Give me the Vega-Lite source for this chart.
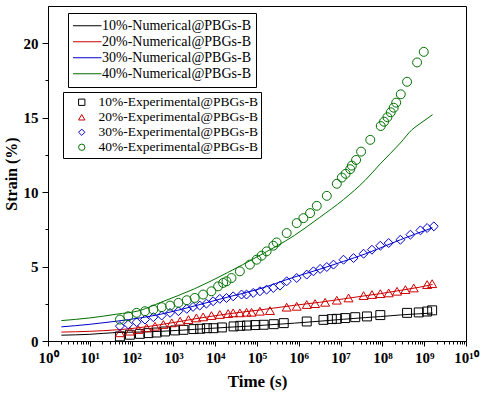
{
  "$schema": "https://vega.github.io/schema/vega-lite/v6.json",
  "width": 418,
  "height": 335,
  "autosize": "none",
  "padding": {"left": 48, "top": 6, "right": 20, "bottom": 56},
  "background": "white",
  "config": {
    "view": {"stroke": "black", "strokeWidth": 1},
    "font": "Liberation Serif",
    "axis": {"grid": false, "domainColor": "black", "tickColor": "black", "labelColor": "black", "titleColor": "black", "labelFont": "Liberation Serif", "titleFont": "Liberation Serif", "labelFontWeight": "bold", "titleFontWeight": "bold"},
    "legend": {"labelFont": "Liberation Serif", "labelColor": "black"}
  },
  "datasets": {
    "num": [
      {"t": 2.09, "10%-Numerical@PBGs-B": 0.39, "20%-Numerical@PBGs-B": 0.6, "30%-Numerical@PBGs-B": 0.95, "40%-Numerical@PBGs-B": 1.37},
      {"t": 10, "10%-Numerical@PBGs-B": 0.45, "20%-Numerical@PBGs-B": 0.65, "30%-Numerical@PBGs-B": 1.12, "40%-Numerical@PBGs-B": 1.55},
      {"t": 43.65, "10%-Numerical@PBGs-B": 0.57, "20%-Numerical@PBGs-B": 0.75, "30%-Numerical@PBGs-B": 1.33, "40%-Numerical@PBGs-B": 1.8},
      {"t": 158.5, "10%-Numerical@PBGs-B": 0.6, "20%-Numerical@PBGs-B": 0.9, "30%-Numerical@PBGs-B": 1.55, "40%-Numerical@PBGs-B": 2.05},
      {"t": 501.2, "10%-Numerical@PBGs-B": 0.65, "20%-Numerical@PBGs-B": 1.1, "30%-Numerical@PBGs-B": 1.8, "40%-Numerical@PBGs-B": 2.6},
      {"t": 3162, "10%-Numerical@PBGs-B": 0.78, "20%-Numerical@PBGs-B": 1.48, "30%-Numerical@PBGs-B": 2.35, "40%-Numerical@PBGs-B": 3.5},
      {"t": 19950, "10%-Numerical@PBGs-B": 0.92, "20%-Numerical@PBGs-B": 1.82, "30%-Numerical@PBGs-B": 2.95, "40%-Numerical@PBGs-B": 4.6},
      {"t": 100000, "10%-Numerical@PBGs-B": 1.03, "20%-Numerical@PBGs-B": 2.06, "30%-Numerical@PBGs-B": 3.45, "40%-Numerical@PBGs-B": 5.65},
      {"t": 794300, "10%-Numerical@PBGs-B": 1.2, "20%-Numerical@PBGs-B": 2.4, "30%-Numerical@PBGs-B": 4.3, "40%-Numerical@PBGs-B": 7.1},
      {"t": 3162000, "10%-Numerical@PBGs-B": 1.33, "20%-Numerical@PBGs-B": 2.6, "30%-Numerical@PBGs-B": 4.82, "40%-Numerical@PBGs-B": 8.3},
      {"t": 11750000, "10%-Numerical@PBGs-B": 1.46, "20%-Numerical@PBGs-B": 2.83, "30%-Numerical@PBGs-B": 5.35, "40%-Numerical@PBGs-B": 9.5},
      {"t": 38900000, "10%-Numerical@PBGs-B": 1.57, "20%-Numerical@PBGs-B": 3.04, "30%-Numerical@PBGs-B": 5.85, "40%-Numerical@PBGs-B": 10.8},
      {"t": 89130000, "10%-Numerical@PBGs-B": 1.64, "20%-Numerical@PBGs-B": 3.18, "30%-Numerical@PBGs-B": 6.25, "40%-Numerical@PBGs-B": 11.9},
      {"t": 269200000, "10%-Numerical@PBGs-B": 1.75, "20%-Numerical@PBGs-B": 3.4, "30%-Numerical@PBGs-B": 6.8, "40%-Numerical@PBGs-B": 13.3},
      {"t": 512900000, "10%-Numerical@PBGs-B": 1.8, "20%-Numerical@PBGs-B": 3.53, "30%-Numerical@PBGs-B": 7.1, "40%-Numerical@PBGs-B": 14.2},
      {"t": 794300000, "10%-Numerical@PBGs-B": 1.83, "20%-Numerical@PBGs-B": 3.62, "30%-Numerical@PBGs-B": 7.3, "40%-Numerical@PBGs-B": 14.6},
      {"t": 1585000000, "10%-Numerical@PBGs-B": 1.88, "20%-Numerical@PBGs-B": 3.8, "30%-Numerical@PBGs-B": 7.6, "40%-Numerical@PBGs-B": 15.2}
    ],
    "exp": [
      {"g": "10%-Experimental@PBGs-B", "t": 52.5, "s": 0.31},
      {"g": "10%-Experimental@PBGs-B", "t": 91.2, "s": 0.42},
      {"g": "10%-Experimental@PBGs-B", "t": 158.5, "s": 0.48},
      {"g": "10%-Experimental@PBGs-B", "t": 251.2, "s": 0.53},
      {"g": "10%-Experimental@PBGs-B", "t": 398.1, "s": 0.57},
      {"g": "10%-Experimental@PBGs-B", "t": 631, "s": 0.64},
      {"g": "10%-Experimental@PBGs-B", "t": 1096, "s": 0.71},
      {"g": "10%-Experimental@PBGs-B", "t": 1738, "s": 0.75},
      {"g": "10%-Experimental@PBGs-B", "t": 3020, "s": 0.8},
      {"g": "10%-Experimental@PBGs-B", "t": 4365, "s": 0.82},
      {"g": "10%-Experimental@PBGs-B", "t": 6310, "s": 0.86},
      {"g": "10%-Experimental@PBGs-B", "t": 9120, "s": 0.86},
      {"g": "10%-Experimental@PBGs-B", "t": 14450, "s": 0.91},
      {"g": "10%-Experimental@PBGs-B", "t": 27540, "s": 0.98},
      {"g": "10%-Experimental@PBGs-B", "t": 39810, "s": 1.02},
      {"g": "10%-Experimental@PBGs-B", "t": 57540, "s": 1.04},
      {"g": "10%-Experimental@PBGs-B", "t": 91200, "s": 1.07},
      {"g": "10%-Experimental@PBGs-B", "t": 144500, "s": 1.09},
      {"g": "10%-Experimental@PBGs-B", "t": 251200, "s": 1.13},
      {"g": "10%-Experimental@PBGs-B", "t": 436500, "s": 1.2},
      {"g": "10%-Experimental@PBGs-B", "t": 1549000, "s": 1.31},
      {"g": "10%-Experimental@PBGs-B", "t": 3890000, "s": 1.42},
      {"g": "10%-Experimental@PBGs-B", "t": 6166000, "s": 1.47},
      {"g": "10%-Experimental@PBGs-B", "t": 8128000, "s": 1.49},
      {"g": "10%-Experimental@PBGs-B", "t": 12880000, "s": 1.54},
      {"g": "10%-Experimental@PBGs-B", "t": 22390000, "s": 1.6},
      {"g": "10%-Experimental@PBGs-B", "t": 42660000, "s": 1.65},
      {"g": "10%-Experimental@PBGs-B", "t": 89130000, "s": 1.74},
      {"g": "10%-Experimental@PBGs-B", "t": 389000000, "s": 1.89},
      {"g": "10%-Experimental@PBGs-B", "t": 741300000, "s": 1.92},
      {"g": "10%-Experimental@PBGs-B", "t": 1175000000, "s": 1.98},
      {"g": "10%-Experimental@PBGs-B", "t": 1549000000, "s": 2.06},
      {"g": "20%-Experimental@PBGs-B", "t": 52.5, "s": 0.55},
      {"g": "20%-Experimental@PBGs-B", "t": 91.2, "s": 0.66},
      {"g": "20%-Experimental@PBGs-B", "t": 144.5, "s": 0.77},
      {"g": "20%-Experimental@PBGs-B", "t": 229.1, "s": 0.88},
      {"g": "20%-Experimental@PBGs-B", "t": 363.1, "s": 0.99},
      {"g": "20%-Experimental@PBGs-B", "t": 575.4, "s": 1.11},
      {"g": "20%-Experimental@PBGs-B", "t": 912, "s": 1.22},
      {"g": "20%-Experimental@PBGs-B", "t": 1445, "s": 1.33},
      {"g": "20%-Experimental@PBGs-B", "t": 2291, "s": 1.44},
      {"g": "20%-Experimental@PBGs-B", "t": 3548, "s": 1.55},
      {"g": "20%-Experimental@PBGs-B", "t": 5129, "s": 1.62},
      {"g": "20%-Experimental@PBGs-B", "t": 8128, "s": 1.71},
      {"g": "20%-Experimental@PBGs-B", "t": 12880, "s": 1.78},
      {"g": "20%-Experimental@PBGs-B", "t": 20420, "s": 1.84},
      {"g": "20%-Experimental@PBGs-B", "t": 26920, "s": 1.89},
      {"g": "20%-Experimental@PBGs-B", "t": 38900, "s": 1.89},
      {"g": "20%-Experimental@PBGs-B", "t": 56230, "s": 1.93},
      {"g": "20%-Experimental@PBGs-B", "t": 74130, "s": 1.93},
      {"g": "20%-Experimental@PBGs-B", "t": 117500, "s": 2.0},
      {"g": "20%-Experimental@PBGs-B", "t": 204200, "s": 2.04},
      {"g": "20%-Experimental@PBGs-B", "t": 512900, "s": 2.27},
      {"g": "20%-Experimental@PBGs-B", "t": 891300, "s": 2.33},
      {"g": "20%-Experimental@PBGs-B", "t": 1549000, "s": 2.45},
      {"g": "20%-Experimental@PBGs-B", "t": 2455000, "s": 2.51},
      {"g": "20%-Experimental@PBGs-B", "t": 4266000, "s": 2.6},
      {"g": "20%-Experimental@PBGs-B", "t": 8128000, "s": 2.74},
      {"g": "20%-Experimental@PBGs-B", "t": 15490000, "s": 2.89},
      {"g": "20%-Experimental@PBGs-B", "t": 35480000, "s": 3.05},
      {"g": "20%-Experimental@PBGs-B", "t": 56230000, "s": 3.12},
      {"g": "20%-Experimental@PBGs-B", "t": 89130000, "s": 3.18},
      {"g": "20%-Experimental@PBGs-B", "t": 141300000, "s": 3.23},
      {"g": "20%-Experimental@PBGs-B", "t": 223900000, "s": 3.34},
      {"g": "20%-Experimental@PBGs-B", "t": 354800000, "s": 3.45},
      {"g": "20%-Experimental@PBGs-B", "t": 562300000, "s": 3.56},
      {"g": "20%-Experimental@PBGs-B", "t": 1175000000, "s": 3.79},
      {"g": "20%-Experimental@PBGs-B", "t": 1549000000, "s": 3.85},
      {"g": "30%-Experimental@PBGs-B", "t": 52.5, "s": 1.0},
      {"g": "30%-Experimental@PBGs-B", "t": 83.2, "s": 1.11},
      {"g": "30%-Experimental@PBGs-B", "t": 131.8, "s": 1.26},
      {"g": "30%-Experimental@PBGs-B", "t": 208.9, "s": 1.44},
      {"g": "30%-Experimental@PBGs-B", "t": 331.1, "s": 1.6},
      {"g": "30%-Experimental@PBGs-B", "t": 524.8, "s": 1.71},
      {"g": "30%-Experimental@PBGs-B", "t": 831.8, "s": 1.89},
      {"g": "30%-Experimental@PBGs-B", "t": 1318, "s": 2.0},
      {"g": "30%-Experimental@PBGs-B", "t": 2089, "s": 2.16},
      {"g": "30%-Experimental@PBGs-B", "t": 2951, "s": 2.29},
      {"g": "30%-Experimental@PBGs-B", "t": 4266, "s": 2.38},
      {"g": "30%-Experimental@PBGs-B", "t": 6166, "s": 2.51},
      {"g": "30%-Experimental@PBGs-B", "t": 8913, "s": 2.67},
      {"g": "30%-Experimental@PBGs-B", "t": 12880, "s": 2.83},
      {"g": "30%-Experimental@PBGs-B", "t": 18620, "s": 2.89},
      {"g": "30%-Experimental@PBGs-B", "t": 26920, "s": 3.0},
      {"g": "30%-Experimental@PBGs-B", "t": 42660, "s": 3.12},
      {"g": "30%-Experimental@PBGs-B", "t": 56230, "s": 3.12},
      {"g": "30%-Experimental@PBGs-B", "t": 81280, "s": 3.23},
      {"g": "30%-Experimental@PBGs-B", "t": 117500, "s": 3.34},
      {"g": "30%-Experimental@PBGs-B", "t": 169800, "s": 3.45},
      {"g": "30%-Experimental@PBGs-B", "t": 245500, "s": 3.56},
      {"g": "30%-Experimental@PBGs-B", "t": 354800, "s": 3.72},
      {"g": "30%-Experimental@PBGs-B", "t": 512900, "s": 4.01},
      {"g": "30%-Experimental@PBGs-B", "t": 891300, "s": 4.23},
      {"g": "30%-Experimental@PBGs-B", "t": 1549000, "s": 4.46},
      {"g": "30%-Experimental@PBGs-B", "t": 2239000, "s": 4.68},
      {"g": "30%-Experimental@PBGs-B", "t": 3236000, "s": 4.84},
      {"g": "30%-Experimental@PBGs-B", "t": 4677000, "s": 4.97},
      {"g": "30%-Experimental@PBGs-B", "t": 6761000, "s": 5.13},
      {"g": "30%-Experimental@PBGs-B", "t": 11750000, "s": 5.46},
      {"g": "30%-Experimental@PBGs-B", "t": 20420000, "s": 5.57},
      {"g": "30%-Experimental@PBGs-B", "t": 35480000, "s": 5.86},
      {"g": "30%-Experimental@PBGs-B", "t": 56230000, "s": 6.13},
      {"g": "30%-Experimental@PBGs-B", "t": 89130000, "s": 6.4},
      {"g": "30%-Experimental@PBGs-B", "t": 141300000, "s": 6.58},
      {"g": "30%-Experimental@PBGs-B", "t": 269200000, "s": 6.8},
      {"g": "30%-Experimental@PBGs-B", "t": 467700000, "s": 7.14},
      {"g": "30%-Experimental@PBGs-B", "t": 812800000, "s": 7.43},
      {"g": "30%-Experimental@PBGs-B", "t": 1175000000, "s": 7.59},
      {"g": "30%-Experimental@PBGs-B", "t": 1698000000, "s": 7.7},
      {"g": "40%-Experimental@PBGs-B", "t": 52.5, "s": 1.44},
      {"g": "40%-Experimental@PBGs-B", "t": 83.2, "s": 1.66},
      {"g": "40%-Experimental@PBGs-B", "t": 131.8, "s": 1.89},
      {"g": "40%-Experimental@PBGs-B", "t": 208.9, "s": 2.0},
      {"g": "40%-Experimental@PBGs-B", "t": 331.1, "s": 2.11},
      {"g": "40%-Experimental@PBGs-B", "t": 524.8, "s": 2.27},
      {"g": "40%-Experimental@PBGs-B", "t": 831.8, "s": 2.38},
      {"g": "40%-Experimental@PBGs-B", "t": 1318, "s": 2.56},
      {"g": "40%-Experimental@PBGs-B", "t": 2089, "s": 2.74},
      {"g": "40%-Experimental@PBGs-B", "t": 3236, "s": 2.89},
      {"g": "40%-Experimental@PBGs-B", "t": 5129, "s": 3.12},
      {"g": "40%-Experimental@PBGs-B", "t": 8128, "s": 3.34},
      {"g": "40%-Experimental@PBGs-B", "t": 11750, "s": 3.67},
      {"g": "40%-Experimental@PBGs-B", "t": 15490, "s": 3.9},
      {"g": "40%-Experimental@PBGs-B", "t": 18620, "s": 4.01},
      {"g": "40%-Experimental@PBGs-B", "t": 24550, "s": 4.23},
      {"g": "40%-Experimental@PBGs-B", "t": 38900, "s": 4.68},
      {"g": "40%-Experimental@PBGs-B", "t": 67610, "s": 5.13},
      {"g": "40%-Experimental@PBGs-B", "t": 97720, "s": 5.46},
      {"g": "40%-Experimental@PBGs-B", "t": 128800, "s": 5.73},
      {"g": "40%-Experimental@PBGs-B", "t": 169800, "s": 6.02},
      {"g": "40%-Experimental@PBGs-B", "t": 245500, "s": 6.4},
      {"g": "40%-Experimental@PBGs-B", "t": 295100, "s": 6.62},
      {"g": "40%-Experimental@PBGs-B", "t": 512900, "s": 7.25},
      {"g": "40%-Experimental@PBGs-B", "t": 891300, "s": 7.92},
      {"g": "40%-Experimental@PBGs-B", "t": 1288000, "s": 8.25},
      {"g": "40%-Experimental@PBGs-B", "t": 1862000, "s": 8.59},
      {"g": "40%-Experimental@PBGs-B", "t": 2692000, "s": 9.08},
      {"g": "40%-Experimental@PBGs-B", "t": 4677000, "s": 9.75},
      {"g": "40%-Experimental@PBGs-B", "t": 8128000, "s": 10.56},
      {"g": "40%-Experimental@PBGs-B", "t": 10720000, "s": 10.98},
      {"g": "40%-Experimental@PBGs-B", "t": 13180000, "s": 11.23},
      {"g": "40%-Experimental@PBGs-B", "t": 16980000, "s": 11.54},
      {"g": "40%-Experimental@PBGs-B", "t": 18620000, "s": 11.78},
      {"g": "40%-Experimental@PBGs-B", "t": 23440000, "s": 12.16},
      {"g": "40%-Experimental@PBGs-B", "t": 30900000, "s": 12.72},
      {"g": "40%-Experimental@PBGs-B", "t": 51290000, "s": 13.51},
      {"g": "40%-Experimental@PBGs-B", "t": 91200000, "s": 14.44},
      {"g": "40%-Experimental@PBGs-B", "t": 109600000, "s": 14.73},
      {"g": "40%-Experimental@PBGs-B", "t": 131800000, "s": 15.03},
      {"g": "40%-Experimental@PBGs-B", "t": 158500000, "s": 15.36},
      {"g": "40%-Experimental@PBGs-B", "t": 186200000, "s": 15.67},
      {"g": "40%-Experimental@PBGs-B", "t": 213800000, "s": 16.01},
      {"g": "40%-Experimental@PBGs-B", "t": 275400000, "s": 16.57},
      {"g": "40%-Experimental@PBGs-B", "t": 389000000, "s": 17.41},
      {"g": "40%-Experimental@PBGs-B", "t": 676100000, "s": 18.71},
      {"g": "40%-Experimental@PBGs-B", "t": 977200000, "s": 19.42}
    ]
  },
  "layer": [
    {
      "data": {"name": "num"},
      "transform": [{"fold": ["10%-Numerical@PBGs-B", "20%-Numerical@PBGs-B", "30%-Numerical@PBGs-B", "40%-Numerical@PBGs-B"], "as": ["g", "s"]}],
      "mark": {"type": "line", "strokeWidth": 1, "interpolate": "monotone"},
      "encoding": {
        "x": {"field": "t", "type": "quantitative", "scale": {"type": "log", "domain": [1, 10000000000]},
          "axis": {"orient": "bottom", "values": [1, 10, 100, 1000, 10000, 100000, 1000000, 10000000, 100000000, 1000000000, 10000000000],
            "labelExpr": "'10' + ['⁰','¹','²','³','⁴','⁵','⁶','⁷','⁸','⁹','¹⁰'][round(log(datum.value)/LN10)]",
            "tickSize": 5, "labelPadding": 4, "labelFontSize": 15, "labelFlush": false, "labelOverlap": false,
            "title": "Time (s)", "titleFontSize": 17, "titlePadding": 8}},
        "y": {"field": "s", "type": "quantitative", "scale": {"domain": [0, 22.5], "nice": false, "zero": false},
          "axis": {"orient": "left", "values": [0, 5, 10, 15, 20], "tickSize": 6, "labelPadding": 4, "labelFontSize": 15,
            "title": "Strain (%)", "titleFontSize": 16, "titlePadding": 4}},
        "color": {"field": "g", "type": "nominal",
          "scale": {"domain": ["10%-Numerical@PBGs-B", "20%-Numerical@PBGs-B", "30%-Numerical@PBGs-B", "40%-Numerical@PBGs-B"], "range": ["#000000", "#cc0000", "#0000cc", "#007000"]},
          "legend": {"orient": "none", "legendX": 20, "legendY": 7, "title": null, "strokeColor": "black", "fillColor": "white", "padding": 5,
            "labelFontSize": 14, "labelLimit": 400, "symbolType": "stroke", "symbolSize": 1024, "symbolStrokeWidth": 1,
            "clipHeight": 15.5, "rowPadding": 0, "symbolOffset": -4, "labelOffset": 0}}
      }
    },
    {
      "data": {"name": "exp"},
      "mark": {"type": "point", "filled": false, "strokeWidth": 1, "size": 80, "opacity": 1},
      "encoding": {
        "x": {"field": "t", "type": "quantitative", "axis": {"orient": "bottom", "tickCount": 100, "labels": false, "domain": false, "tickSize": 3, "title": null}},
        "y": {"field": "s", "type": "quantitative", "axis": {"orient": "left", "values": [2.5, 7.5, 12.5, 17.5], "labels": false, "domain": false, "tickSize": 3, "title": null}},
        "color": {"field": "g", "type": "nominal",
          "scale": {"domain": ["10%-Experimental@PBGs-B", "20%-Experimental@PBGs-B", "30%-Experimental@PBGs-B", "40%-Experimental@PBGs-B"], "range": ["#000000", "#cc0000", "#0000cc", "#007000"]},
          "legend": {"orient": "none", "legendX": 15, "legendY": 86, "title": null, "strokeColor": "black", "fillColor": "white", "padding": 3,
            "labelFontSize": 13.5, "labelLimit": 400, "symbolSize": 40, "symbolStrokeWidth": 1, "clipHeight": 14.5, "rowPadding": 0, "symbolOffset": 9, "labelOffset": 10}},
        "shape": {"field": "g", "type": "nominal",
          "scale": {"domain": ["10%-Experimental@PBGs-B", "20%-Experimental@PBGs-B", "30%-Experimental@PBGs-B", "40%-Experimental@PBGs-B"], "range": ["square", "triangle-up", "diamond", "circle"]},
          "legend": {"orient": "none", "legendX": 15, "legendY": 86, "title": null, "strokeColor": "black", "fillColor": "white", "padding": 3,
            "labelFontSize": 13.5, "labelLimit": 400, "symbolSize": 40, "symbolStrokeWidth": 1, "clipHeight": 14.5, "rowPadding": 0, "symbolOffset": 9, "labelOffset": 10}}
      }
    }
  ],
  "resolve": {"scale": {"color": "independent", "shape": "independent"}, "legend": {"color": "independent", "shape": "independent"}, "axis": {"x": "independent", "y": "independent"}}
}
